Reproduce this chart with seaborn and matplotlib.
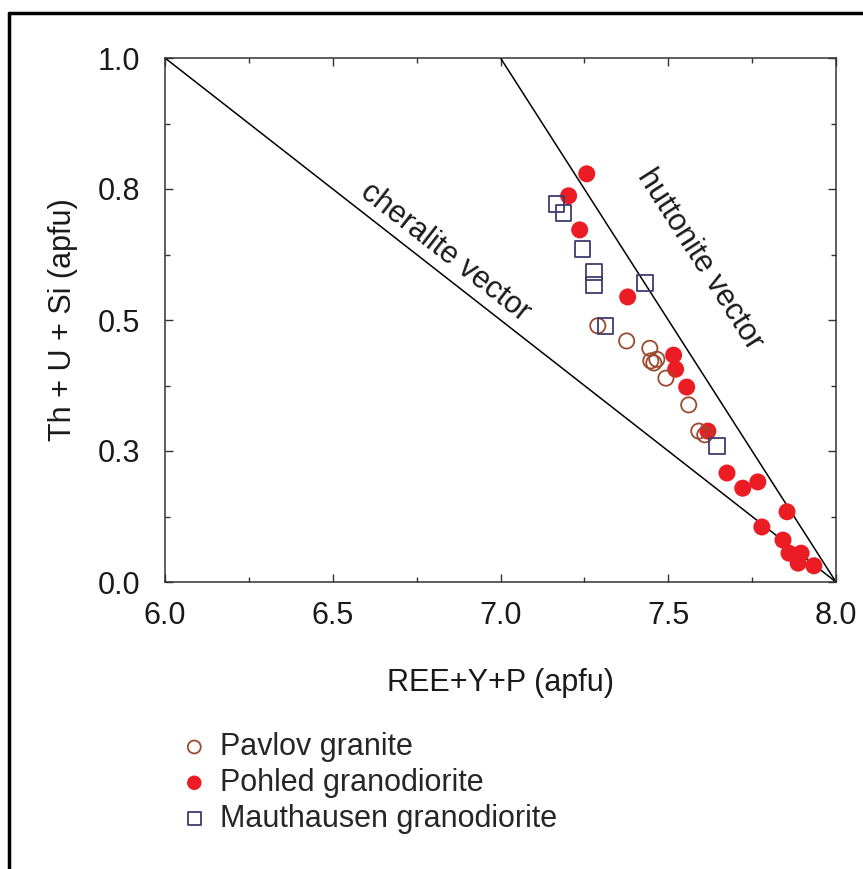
import numpy as np
import pandas as pd
import matplotlib
matplotlib.use('Agg')
import matplotlib.pyplot as plt
from matplotlib.lines import Line2D
from matplotlib.ticker import MultipleLocator, FixedLocator
import seaborn as sns

# Data (REE+Y+P vs Th+U+Si, apfu)
pavlov_x = [7.290, 7.376, 7.445, 7.448, 7.466, 7.457, 7.493, 7.561, 7.591, 7.609]
pavlov_y = [0.489, 0.460, 0.446, 0.422, 0.425, 0.418, 0.389, 0.338, 0.288, 0.281]

pohled_x = [7.257, 7.203, 7.236, 7.379, 7.516, 7.522, 7.555, 7.618, 7.675,
            7.722, 7.767, 7.854, 7.779, 7.842, 7.860, 7.896, 7.887, 7.934]
pohled_y = [0.779, 0.737, 0.672, 0.544, 0.433, 0.406, 0.372, 0.288, 0.208,
            0.179, 0.191, 0.134, 0.105, 0.080, 0.055, 0.055, 0.036, 0.031]

mauth_x = [7.167, 7.188, 7.245, 7.278, 7.278, 7.430, 7.313, 7.645]
mauth_y = [0.721, 0.704, 0.635, 0.592, 0.567, 0.571, 0.489, 0.260]

# substitution vectors (end points)
cheralite_x = [6.0, 8.0]
cheralite_y = [1.0, 0.0]
huttonite_x = [7.0, 8.0]
huttonite_y = [1.0, 0.0]

y_ticks = [0.0, 0.25, 0.5, 0.75, 1.0]
y_ticklabels = ['0.0', '0.3', '0.5', '0.8', '1.0']
x_ticks = [6.0, 6.5, 7.0, 7.5, 8.0]
x_ticklabels = ['6.0', '6.5', '7.0', '7.5', '8.0']

sns.set_style('ticks')
plt.rcParams['font.family'] = ['Liberation Sans', 'DejaVu Sans']
FS = 22

fig = plt.figure(figsize=(8.63, 8.69), dpi=100)
ax = fig.add_axes([165 / 863, 1 - 582 / 869, (836 - 165) / 863, (582 - 58) / 869])

ax.plot(cheralite_x, cheralite_y, color='black', lw=1.1, zorder=1)
ax.plot(huttonite_x, huttonite_y, color='black', lw=1.1, zorder=1)

sns.scatterplot(x=pavlov_x, y=pavlov_y, marker='o', s=120, facecolors='none',
                edgecolor='#9c4a2e', linewidth=1.3, label='Pavlov granite', ax=ax, zorder=3)
sns.scatterplot(x=pohled_x, y=pohled_y, marker='o', s=150, color='#ec1c24',
                edgecolor='none', linewidth=0, label='Pohled granodiorite', ax=ax, zorder=2)
sns.scatterplot(x=mauth_x, y=mauth_y, marker='s', s=125, facecolors='none',
                edgecolor='#3d3b6e', linewidth=1.3, label='Mauthausen granodiorite', ax=ax, zorder=4)

ax.set_xlim(6.0, 8.0)
ax.set_ylim(0.0, 1.0)
ax.xaxis.set_major_locator(FixedLocator(x_ticks))
ax.set_xticklabels(x_ticklabels)
ax.xaxis.set_minor_locator(MultipleLocator(0.25))
ax.yaxis.set_major_locator(FixedLocator(y_ticks))
ax.set_yticklabels(y_ticklabels)
ax.yaxis.set_minor_locator(MultipleLocator(0.125))

ax.tick_params(which='both', direction='in', top=True, right=True, colors='#333333',
               labelcolor='#1a1a1a', width=1.0)
ax.tick_params(which='major', length=6)
ax.tick_params(which='minor', length=3.5)
ax.tick_params(axis='x', which='major', labelsize=FS, pad=14)
ax.tick_params(axis='y', which='major', labelsize=FS, pad=18)
for sp in ax.spines.values():
    sp.set_linewidth(1.1)
    sp.set_color('#333333')

ax.set_xlabel('REE+Y+P (apfu)', fontsize=FS, color='#1a1a1a', labelpad=26)
ax.set_ylabel('Th + U + Si (apfu)', fontsize=FS, color='#1a1a1a', labelpad=14)

ax.text(6.835, 0.63, 'cheralite vector', rotation=-38, fontsize=FS, color='#1a1a1a',
        ha='center', va='center', rotation_mode='anchor')
ax.text(7.595, 0.615, 'huttonite vector', rotation=-57.4, fontsize=FS, color='#1a1a1a',
        ha='center', va='center', rotation_mode='anchor')

ax.legend(loc='upper left', bbox_to_anchor=(179 / 863, 1 - 732 / 869),
          bbox_transform=fig.transFigure, frameon=False, fontsize=FS,
          handlelength=1.0, handletextpad=0.35, labelspacing=0.19,
          borderpad=0, borderaxespad=0, markerscale=0.85)

# outer frame (only top and left edges visible)
fig.add_artist(Line2D([9 / 863, 1.0], [1 - 13 / 869, 1 - 13 / 869], color='black', lw=2.5,
                      transform=fig.transFigure))
fig.add_artist(Line2D([9 / 863, 9 / 863], [0.0, 1 - 13 / 869], color='black', lw=2.5,
                      transform=fig.transFigure))

fig.savefig('out.png', dpi=100)
